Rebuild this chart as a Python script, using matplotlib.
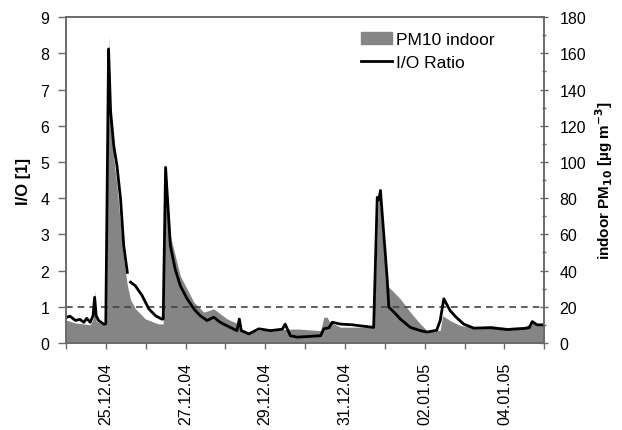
import matplotlib.pyplot as plt
from matplotlib.ticker import MultipleLocator, FixedLocator
from matplotlib.patches import Patch
from matplotlib.lines import Line2D

plt.rcParams['font.family'] = ['Liberation Sans', 'DejaVu Sans']

# time in days since 24.12.04 00:00; None = gap in the record
ratio_day = [0.0, 0.03, 0.1, 0.24, 0.35, 0.45, 0.52, 0.61, 0.68, 0.72, 0.76, 0.82, 0.95, 1.0,
             1.07, 1.12, 1.2, 1.28, 1.37, 1.45, 1.54, 1.58, 1.62, 1.74, 1.91, 2.08, 2.25,
             2.4, 2.44, 2.5, 2.62, 2.74, 2.87, 3.04, 3.21, 3.37, 3.54, 3.71, 3.87, 4.12,
             4.29, 4.35, 4.4, 4.59, 4.84, 5.13, 5.43, 5.5, 5.63, 5.8, 6.1, 6.39, 6.47,
             6.6, 6.68, 6.89, 7.2, 7.4, 7.72, 7.81, 7.85, 7.89, 7.97, 8.06, 8.1, 8.23,
             8.39, 8.64, 8.89, 9.06, 9.3, 9.39, 9.48, 9.64, 9.8, 9.98, 10.23, 10.65,
             11.07, 11.5, 11.62, 11.7, 11.82, 12.0]
ratio = [0.72, 0.71, 0.74, 0.62, 0.65, 0.57, 0.68, 0.57, 0.75, 1.26, 0.75, 0.62, 0.52, 0.52,
         8.12, 6.4, 5.45, 4.9, 3.98, 2.69, 1.95, None, 1.68, 1.58, 1.31, 0.94, 0.75,
         0.66, 0.66, 4.85, 2.69, 2.04, 1.58, 1.22, 0.94, 0.75, 0.62, 0.71, 0.57, 0.43,
         0.34, 0.66, 0.34, 0.25, 0.39, 0.34, 0.38, 0.52, 0.2, 0.16, 0.18, 0.2, 0.39,
         0.42, 0.57, 0.52, 0.5, 0.47, 0.43, 4.02, 3.95, 4.21, 3.06, 1.77, 0.99, 0.85,
         0.66, 0.43, 0.34, 0.3, 0.35, 0.62, 1.22, 0.89, 0.7, 0.52, 0.41, 0.42,
         0.37, 0.4, 0.42, 0.59, 0.5, 0.5]
ratio = [float('nan') if v is None else v for v in ratio]

pm_day = [0.0, 0.03, 0.24, 0.45, 0.61, 0.68, 0.72, 0.76, 0.95, 1.02, 1.07, 1.12, 1.2, 1.28,
          1.37, 1.45, 1.54, 1.62, 1.74, 1.99, 2.32, 2.44, 2.5, 2.62, 2.87, 3.21, 3.46,
          3.71, 4.04, 4.33, 4.35, 4.4, 4.59, 4.84, 5.21, 5.5, 5.8, 6.39, 6.47, 6.55,
          6.62, 6.89, 7.72, 7.85, 7.97, 8.06, 8.23, 8.39, 8.64, 8.89, 9.06, 9.39, 9.45,
          9.64, 9.9, 10.23, 10.65, 11.07, 11.5, 11.7, 12.0]
pm = [12, 12.5, 11, 10.5, 10, 13, 29, 12, 10, 10, 170, 130, 102, 87,
      65, 46, 32, 24, 19, 13.3, 10.5, 10.5, 97, 59, 37, 22.5, 17,
      18.8, 13.3, 10.5, 14, 8, 5.5, 7, 6.8, 7.5, 7.7, 6.8, 14.2, 14.2,
      11.5, 8.7, 8.7, 86, 50, 31.7, 28, 24.3, 17, 10.5, 6.8, 7, 15,
      12.3, 9.6, 8.5, 9.6, 8.5, 9, 11, 10]

fig = plt.figure(figsize=(6.22, 4.31), dpi=100)
ax = fig.add_axes([0.106, 0.202, 0.769, 0.756])
ax2 = ax.twinx()

ax2.fill_between(pm_day, pm, 0, color='#858585', lw=0, zorder=1)
ax2.set_ylim(0, 180)
ax2.yaxis.set_major_locator(MultipleLocator(20))
ax2.yaxis.set_minor_locator(MultipleLocator(10))

ax.set_zorder(ax2.get_zorder() + 1)
ax.patch.set_visible(False)
ax.axhline(1, color='#444444', lw=1.2, ls=(0, (4, 3)))
ax.plot(ratio_day, ratio, color='black', lw=2)
ax.set_ylim(0, 9)
ax.set_xlim(0, 12)
ax.yaxis.set_major_locator(MultipleLocator(1))

tick_days = [1, 3, 5, 7, 9, 11]
tick_labels = ['25.12.04', '27.12.04', '29.12.04', '31.12.04', '02.01.05', '04.01.05']
ax.xaxis.set_major_locator(FixedLocator(tick_days))
ax.xaxis.set_minor_locator(MultipleLocator(1))
ax.set_xticklabels(tick_labels, rotation=90)

for a in (ax, ax2):
    for s in a.spines.values():
        s.set_color('#6a6a6a')
        s.set_linewidth(1.2)
ax.tick_params(axis='both', which='both', color='#6a6a6a', labelsize=11.5, width=1)
ax.tick_params(axis='y', which='major', length=6, pad=6)
ax.tick_params(axis='x', which='both', length=4.5)
ax.tick_params(axis='x', which='major', pad=9)
ax2.tick_params(axis='y', which='major', direction='inout', length=6, width=1,
                color='#6a6a6a', labelsize=11.5, pad=8)
ax2.tick_params(axis='y', which='minor', direction='inout', length=3.5, width=1, color='#6a6a6a')

ax.set_ylabel('I/O [1]', fontweight='bold', fontsize=12, labelpad=7)
ax2.set_ylabel('indoor PM$_{\\mathbf{10}}$ [µg m$^{\\mathbf{-3}}$]', fontweight='bold',
               fontsize=11, labelpad=5)

handles = [Patch(color='#858585', label='PM10 indoor'),
           Line2D([], [], color='black', lw=2, label='I/O Ratio')]
ax.legend(handles=handles, loc='upper right', bbox_to_anchor=(0.91, 0.975), frameon=False,
          fontsize=12.5, handlelength=1.8, handletextpad=0.2, labelspacing=0.45,
          borderaxespad=0)

fig.savefig('out.png', dpi=100)
